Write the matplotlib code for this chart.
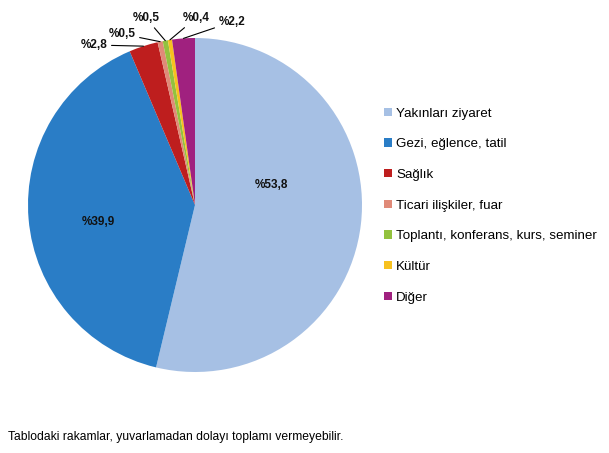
import matplotlib
matplotlib.use("Agg")
import matplotlib.pyplot as plt
import numpy as np
from matplotlib.patches import Patch

plt.rcParams['font.family'] = ['Liberation Sans', 'DejaVu Sans']

categories = ["Yakınları ziyaret", "Gezi, eğlence, tatil", "Sağlık",
              "Ticari ilişkiler, fuar", "Toplantı, konferans, kurs, seminer",
              "Kültür", "Diğer"]
values = [53.8, 39.9, 2.8, 0.5, 0.5, 0.4, 2.2]
labels = ["%53,8", "%39,9", "%2,8", "%0,5", "%0,5", "%0,4", "%2,2"]
colors = ["#A6C0E4", "#2A7DC6", "#BE1E1E", "#E08A78", "#93C23E", "#F7C11F", "#A0217F"]
footnote = "Tablodaki rakamlar, yuvarlamadan dolayı toplamı vermeyebilir."

W, H = 609, 453
fig = plt.figure(figsize=(W / 100, H / 100), dpi=100)
# pie box in pixels: x 28..362, y 38..372
ax = fig.add_axes([28 / W, (H - 372) / H, 334 / W, 334 / H])
wedges, _ = ax.pie(values, colors=colors, startangle=90, counterclock=False,
                   radius=1.0, wedgeprops=dict(linewidth=0))
ax.set_xlim(-1, 1)
ax.set_ylim(-1, 1)
ax.set_aspect('equal')
ax.axis('off')

# label placement (pixel positions, top-left origin)
label_px = [(271, 185), (98, 222), (94, 45), (122, 34), (146, 18), (196, 18), (232, 22)]
inside = [True, True, False, False, False, False, False]
for w, lab, (px, py), ins in zip(wedges, labels, label_px, inside):
    if ins:
        fig.text(px / W, 1 - py / H, lab, ha='center', va='center',
                 fontsize=8.5, fontweight='bold', color='#111111')
    else:
        ang = np.deg2rad((w.theta1 + w.theta2) / 2)
        ax.annotate(lab, xy=(np.cos(ang), np.sin(ang)), xycoords='data',
                    xytext=(px, H - py), textcoords='figure pixels',
                    ha='center', va='center', fontsize=8.5, fontweight='bold',
                    color='#111111',
                    arrowprops=dict(arrowstyle='-', color='black', lw=0.8,
                                    shrinkA=1, shrinkB=0))

handles = [Patch(facecolor=c, edgecolor='none') for c in colors]
fig.legend(handles, categories, loc='upper left',
           bbox_to_anchor=(384 / W, 1 - 107.5 / H), frameon=False,
           fontsize=9.6, handlelength=0.6, handleheight=0.6, handletextpad=0.3,
           labelspacing=1.40, borderpad=0, borderaxespad=0)

fig.text(8 / W, 1 - 437 / H, footnote, ha='left', va='center', fontsize=8.7,
         color='black')

fig.savefig("out.png", dpi=100)
